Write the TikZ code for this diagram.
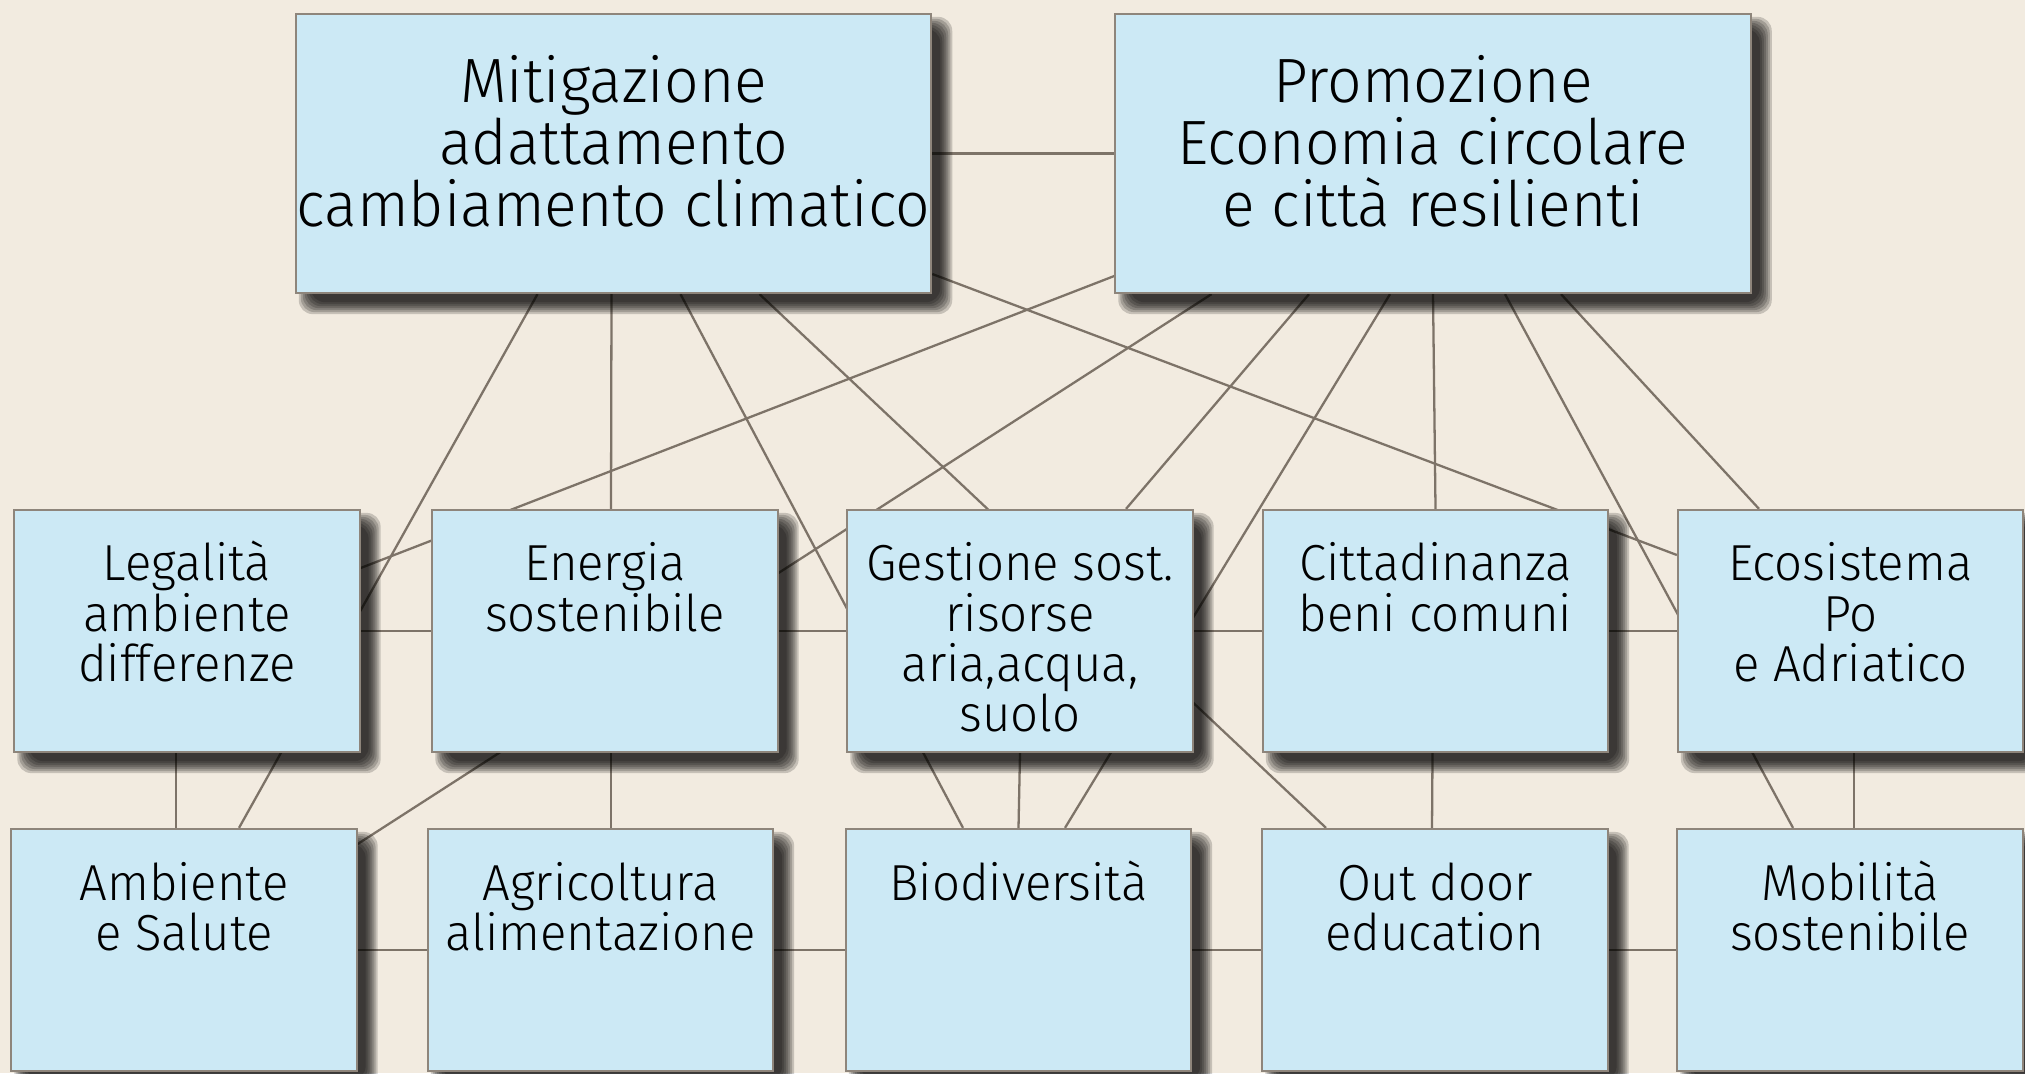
\documentclass[tikz,border=0pt]{standalone}
\usepackage{fontspec}
\setmainfont{Fira Sans}[UprightFont={* Light},FakeStretch=0.97]
\usetikzlibrary{calc}

\definecolor{paper}{RGB}{242,235,224}
\definecolor{boxfill}{RGB}{204,233,245}
\definecolor{boxline}{RGB}{142,133,123}
\definecolor{linkcol}{RGB}{125,115,104}

\pgfdeclarelayer{bg}
\pgfdeclarelayer{links}
\pgfdeclarelayer{shade}
\pgfsetlayers{bg,links,shade,main}

\begin{document}
\begin{tikzpicture}[x=0.01cm,y=-0.01cm,
   box/.style={rectangle,draw=boxline,line width=0.6pt,fill=boxfill,inner sep=0pt},
   bigbox/.style={box,
      execute at begin node={\begin{minipage}[t][2.79cm][t]{6.35cm}\centering
         \fontsize{17.8}{17.6}\selectfont\vspace*{0.356cm}\rule{0pt}{0.85em}},
      execute at end node={\end{minipage}}},
   smallbox/.style={box,
      execute at begin node={\begin{minipage}[t][2.42cm][t]{3.45cm}\centering
         \fontsize{14.4}{14.3}\selectfont\vspace*{0.28cm}\rule{0pt}{0.85em}},
      execute at end node={\end{minipage}}},
   link/.style={draw=linkcol,line width=0.65pt},
   shadowpart/.style={fill=black,opacity=0.18,rounded corners=4}]

      \useasboundingbox (0,0) rectangle (2025,1073);
      \begin{pgfonlayer}{bg}
        \fill[paper] (0,0) rectangle (2025,1073);
      \end{pgfonlayer}

      % top row
      \draw (613.5,153.5) node [bigbox] (mitig) {Mitigazione\\adattamento\\cambiamento climatico};
      \draw (1433,153.5) node [bigbox] (promo) {Promozione\\Economia circolare\\e città resilienti};

      % middle row
      \draw (187,631)    node [smallbox] (legal) {Legalità\\ambiente\\differenze};
      \draw (605,631)    node [smallbox] (energ) {Energia\\sostenibile};
      \draw (1020,631)   node [smallbox] (gest)  {Gestione sost.\\risorse\\aria,acqua,\\suolo};
      \draw (1435.5,631) node [smallbox] (citt)  {Cittadinanza\\beni comuni};
      \draw (1850.5,631) node [smallbox] (ecos)  {Ecosistema\\Po\\e Adriatico};

      % bottom row
      \draw (184,950)    node [smallbox] (amb)   {Ambiente\\e Salute};
      \draw (600.5,950)  node [smallbox] (agri)  {Agricoltura\\alimentazione};
      \draw (1018.5,950) node [smallbox] (biod)  {Biodiversità};
      \draw (1435,950)   node [smallbox] (outd)  {Out door\\education};
      \draw (1850,950)   node [smallbox] (mobil) {Mobilità\\sostenibile};

      % soft shadows
      \begin{pgfonlayer}{shade}
        \foreach \n in {mitig,promo,legal,energ,gest,citt,ecos,amb,agri,biod,outd,mobil}
          \foreach \r in {8,6,...,-4}
            \fill[shadowpart] ($(\n.north west)+(12-\r,12-\r)$) rectangle ($(\n.south east)+(12+\r,12+\r)$);
      \end{pgfonlayer}

      \begin{pgfonlayer}{links}
        \draw[link] (mitig) -- (promo);
        \draw[link] (legal) -- (energ) -- (gest) -- (citt) -- (ecos);
        \draw[link] (amb) -- (agri) -- (biod) -- (outd) -- (mobil);

        \draw[link] ($(mitig.south)+(-76,0)$) -- ($(amb.north)+(55,0)$);
        \draw[link] ($(mitig.south)+(-2,0)$)  -- ($(energ.north)+(6,0)$);
        \draw[link] ($(mitig.south)+(67,0)$)  -- ($(biod.north)+(-55.5,0)$);
        \draw[link] ($(mitig.south)+(146,0)$) -- ($(outd.north)+(-109,0)$);
        \draw[link] ($(mitig.east)+(0,120.5)$) -- ($(ecos.west)+(0,-76)$);

        \draw[link] ($(promo.west)+(0,122.5)$)  -- ($(legal.east)+(0,-63)$);
        \draw[link] ($(promo.south)+(-221.5,0)$) -- ($(amb.east)+(0,-106)$);
        \draw[link] ($(promo.south)+(-124,0)$)  -- ($(gest.north)+(106,0)$);
        \draw[link] ($(promo.south)+(-43,0)$)   -- ($(biod.north)+(46.5,0)$);
        \draw[link] (promo.south) -- (citt.north);
        \draw[link] ($(promo.south)+(72,0)$)    -- ($(mobil.north)+(-57,0)$);
        \draw[link] ($(promo.south)+(128,0)$)   -- ($(ecos.north)+(-91.5,0)$);

        \draw[link] ($(legal.south)+(-11,0)$) -- ($(amb.north)+(-8,0)$);
        \draw[link] ($(energ.south)+(6,0)$)   -- ($(agri.north)+(10.5,0)$);
        \draw[link] (gest.south) -- (biod.north);
        \draw[link] ($(citt.south)+(-3,0)$)   -- ($(outd.north)+(-3,0)$);
        \draw[link] ($(ecos.south)+(3.5,0)$)  -- ($(mobil.north)+(4,0)$);
      \end{pgfonlayer}
\end{tikzpicture}
\end{document}
